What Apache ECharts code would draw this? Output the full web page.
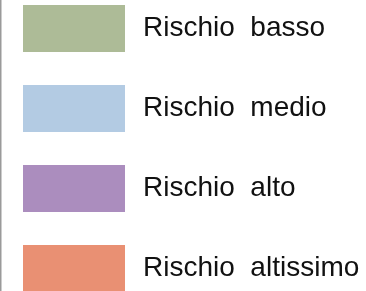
<!DOCTYPE html>
<html>
<head>
<meta charset="utf-8">
<script src="https://cdn.jsdelivr.net/npm/echarts@6/dist/echarts.min.js"></script>
<style>
  html, body { margin: 0; padding: 0; background: #fff; }
  #chart { width: 366px; height: 291px; }
</style>
</head>
<body>
<div id="chart"></div>
<script>
// categorie della legenda
const categories = ['Rischio  basso', 'Rischio  medio', 'Rischio  alto', 'Rischio  altissimo'];
const colors = ['#adbb97', '#b3cbe3', '#ab8dbe', '#e99073'];

const chart = echarts.init(document.getElementById('chart'));

const option = {
    animation: false,
    color: colors,
    grid: { left: 0, right: 0, top: 0, bottom: 0, show: false },
    xAxis: { type: 'category', show: false, data: [] },
    yAxis: { type: 'value', show: false },
    legend: {
        orient: 'vertical',
        left: 23,
        top: 5,
        height: 330,
        padding: 0,
        icon: 'rect',
        itemWidth: 102,
        itemHeight: 47,
        itemGap: 33,
        selectedMode: false,
        data: categories,
        textStyle: {
            fontFamily: 'Liberation Sans',
            fontSize: 28,
            color: '#111',
            padding: [0, 0, 0, 13]
        }
    },
    // linea grigia a sinistra
    graphic: [{
        type: 'rect',
        shape: { x: 0, y: 0, width: 1.5, height: 291 },
        style: { fill: '#9a9a9a' }
    }],
    series: categories.map(name => ({
        name: name,
        type: 'bar',
        data: []
    }))
};

chart.setOption(option);
</script>
</body>
</html>
